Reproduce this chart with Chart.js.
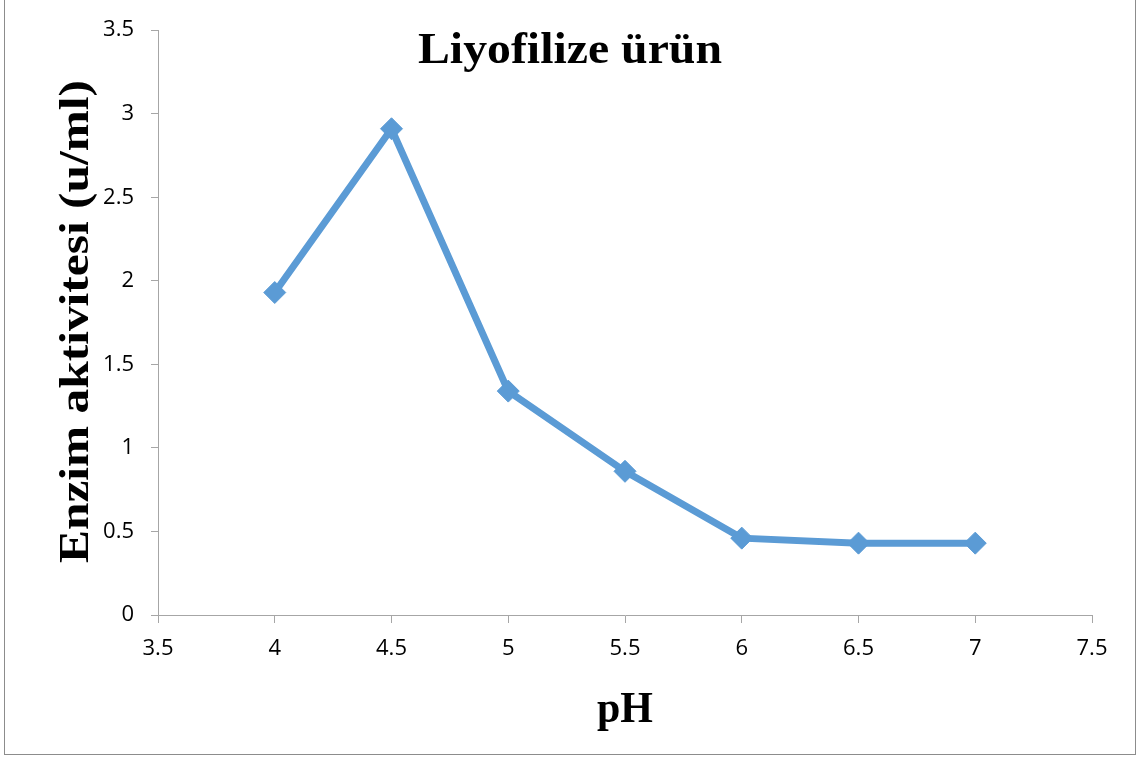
<!DOCTYPE html>
<html>
<head>
<meta charset="utf-8">
<script src="https://cdn.jsdelivr.net/npm/chart.js@4/dist/chart.umd.min.js"></script>
<style>
html,body{margin:0;padding:0;background:#fff;}
#wrap{position:relative;width:1141px;height:758px;}
</style>
</head>
<body>
<div id="wrap"><canvas id="c"></canvas></div>
<script>
const pH = [4, 4.5, 5, 5.5, 6, 6.5, 7];
const activity = [1.93, 2.91, 1.34, 0.86, 0.46, 0.43, 0.43];
const chartTitle = "Liyofilize ürün";
const xTitle = "pH";
const yTitle = "Enzim aktivitesi (u/ml)";

const points = pH.map((x, i) => ({x: x, y: activity[i]}));

function drawScaled(ctx, text, x, y, rot, targetW) {
  ctx.save();
  const w = ctx.measureText(text).width;
  ctx.translate(x, y);
  if (rot) ctx.rotate(rot);
  ctx.scale(targetW / w, 1);
  ctx.textAlign = 'center';
  ctx.fillText(text, 0, 0);
  ctx.restore();
}

const textPlugin = {
  id: 'texts',
  afterDraw(chart) {
    const ctx = chart.ctx;
    ctx.save();
    ctx.strokeStyle = '#8c8c8c';
    ctx.lineWidth = 1;
    ctx.strokeRect(4.5, -5, 1131, 759.5);
    ctx.fillStyle = '#000';
    ctx.textBaseline = 'alphabetic';
    ctx.font = 'bold 45px "Liberation Serif", "Times New Roman", serif';
    drawScaled(ctx, chartTitle, 570, 63, 0, 304);
    drawScaled(ctx, xTitle, 625, 722, 0, 56);
    ctx.font = 'bold 42px "Liberation Serif", "Times New Roman", serif';
    drawScaled(ctx, yTitle, 88, 321.5, -Math.PI / 2, 483);
    ctx.restore();
  }
};

const fmt = v => String(Math.round(v * 100) / 100);

new Chart(document.getElementById('c'), {
  type: 'scatter',
  data: {
    datasets: [{
      data: points,
      showLine: true,
      borderColor: '#5B9BD5',
      backgroundColor: '#5B9BD5',
      borderWidth: 7,
      pointStyle: 'rectRot',
      pointRadius: 11,
      pointHoverRadius: 11,
      pointBorderWidth: 1,
      tension: 0
    }]
  },
  options: {
    responsive: true,
    maintainAspectRatio: false,
    animation: false,
    layout: {padding: {top: 29, right: 49, left: 0, bottom: 0}},
    plugins: {legend: {display: false}, tooltip: {enabled: false}, title: {display: false}},
    scales: {
      x: {
        type: 'linear',
        min: 3.5, max: 7.5,
        ticks: {stepSize: 0.5, color: '#000', padding: 13, callback: fmt, font: {family: '"Open Sans", sans-serif', size: 22}},
        grid: {drawOnChartArea: false, drawTicks: true, tickLength: 8, color: '#A6A6A6'},
        border: {color: '#A6A6A6', width: 1},
        afterFit(s) { s.height = 143; }
      },
      y: {
        min: 0, max: 3.5,
        ticks: {stepSize: 0.5, color: '#000', padding: 17, callback: fmt, font: {family: '"Open Sans", sans-serif', size: 22}},
        grid: {drawOnChartArea: false, drawTicks: true, tickLength: 7, color: '#A6A6A6'},
        border: {color: '#A6A6A6', width: 1},
        afterFit(s) { s.width = 158; }
      }
    }
  },
  plugins: [textPlugin]
});
</script>
</body>
</html>
